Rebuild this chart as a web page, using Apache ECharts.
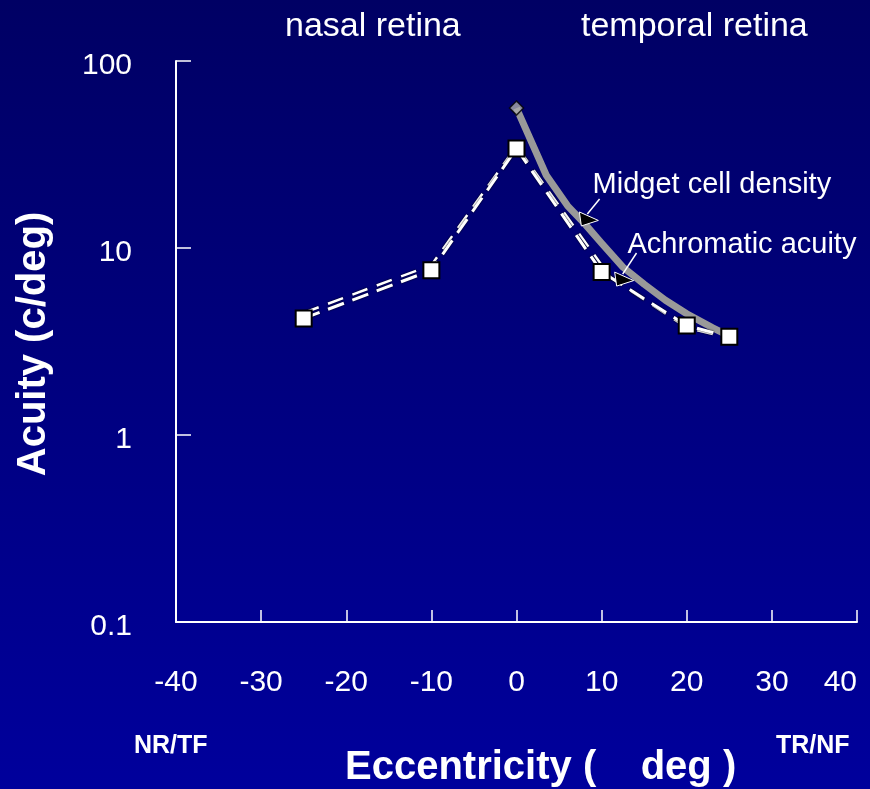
<!DOCTYPE html>
<html><head><meta charset="utf-8">
<script src="https://cdn.jsdelivr.net/npm/echarts@6/dist/echarts.min.js"></script>
<style>html,body{margin:0;padding:0;background:#000080;overflow:hidden;}#c{width:870px;height:789px;}</style>
</head><body><div id="c"></div>
<script>
// ---- data ----
const eccentricity = [-25, -10, 0, 10, 20, 25];
const achromaticAcuity = [4.2, 7.6, 34, 7.45, 3.85, 3.35];
const eccentricity2 = [-25, -10, 0, 11, 20, 25];
const achromaticAcuity2 = [4.5, 8.1, 35, 7.0, 3.75, 3.3];
const midgetEcc = [0, 3.5, 6, 8, 10, 12.5, 15, 17.5, 20, 23, 25.5];
const midgetDensity = [56, 24.5, 16.8, 13.5, 10.6, 7.9, 6.4, 5.25, 4.45, 3.75, 3.3];
const xTicks = [-40, -30, -20, -10, 0, 10, 20, 30, 40];
const yTicks = [0.1, 1, 10, 100];
const regionLabels = ['nasal retina', 'temporal retina'];
const sideLabels = ['NR/TF', 'TR/NF'];
const annotationLabels = ['Midget cell density', 'Achromatic acuity'];
const arrowHeads = [[7.5, 14.3], [11.65, 6.82]];
const arrowTails = [[9.76, 18.3], [14.1, 9.4]];

const pairs = (xs, ys) => xs.map((x, i) => [x, ys[i]]);
const FONT = '"Liberation Sans", Arial, sans-serif';

const chart = echarts.init(document.getElementById('c'), null, {renderer: 'canvas'});
const option = {
  backgroundColor: {
    type: 'linear', x: 0, y: 0, x2: 0, y2: 1,
    colorStops: [{offset: 0, color: '#000064'}, {offset: 0.5, color: '#000080'}, {offset: 1, color: '#00009c'}]
  },
  animation: false,
  grid: {left: 176, right: 13, top: 61, bottom: 167, containLabel: false, outerBoundsMode: 'none'},
  xAxis: {
    type: 'value', min: xTicks[0], max: xTicks[xTicks.length - 1], interval: 10,
    axisLine: {onZero: false, lineStyle: {color: '#fff', width: 2}},
    axisTick: {inside: true, length: 12, lineStyle: {color: '#fff', width: 1.5}},
    axisLabel: {color: '#fff', fontSize: 30, fontFamily: FONT, margin: 46, alignMaxLabel: 'right'},
    splitLine: {show: false}
  },
  yAxis: {
    type: 'log', logBase: 10, min: yTicks[0], max: yTicks[yTicks.length - 1],
    axisLine: {show: true, onZero: false, lineStyle: {color: '#fff', width: 2}},
    axisTick: {show: true, inside: true, length: 15, lineStyle: {color: '#fff', width: 1.5}},
    minorTick: {show: false},
    axisLabel: {color: '#fff', fontSize: 30, fontFamily: FONT, margin: 44,
      formatter: v => '{a|' + v + '}',
      rich: {a: {color: '#fff', fontSize: 30, fontFamily: FONT, padding: [10, 0, 0, 0]}}},
    splitLine: {show: false}
  },
  series: [
    {
      name: 'Midget cell density', type: 'line', data: pairs(midgetEcc, midgetDensity),
      symbol: 'none', smooth: false, z: 2,
      lineStyle: {color: '#999999', width: 7, join: 'round'}
    },
    {
      name: 'Midget start', type: 'scatter', data: [[midgetEcc[0], midgetDensity[0]]],
      symbol: 'diamond', symbolSize: 14, z: 3,
      itemStyle: {color: '#aaaaaa', borderColor: '#000', borderWidth: 1.5}
    },
    {
      name: 'Achromatic acuity 2', type: 'line', data: pairs(eccentricity2, achromaticAcuity2),
      symbol: 'none', z: 4,
      lineStyle: {color: '#fff', width: 2.5, type: [16, 10], shadowColor: 'rgba(0,0,0,0.9)', shadowBlur: 2}
    },
    {
      name: 'Achromatic acuity', type: 'line', data: pairs(eccentricity, achromaticAcuity),
      symbol: 'rect', symbolSize: 16, z: 5,
      lineStyle: {color: '#fff', width: 3, type: [17, 9], shadowColor: 'rgba(0,0,0,0.9)', shadowBlur: 2},
      itemStyle: {color: '#fff', borderColor: '#000', borderWidth: 2}
    }
  ],
  graphic: [
    {type: 'text', left: 285, top: 10, style: {text: regionLabels[0], fill: '#fff', font: '34px ' + FONT}},
    {type: 'text', left: 581, top: 10, style: {text: regionLabels[1], fill: '#fff', font: '34px ' + FONT}},
    {type: 'text', left: 134, top: 734, style: {text: sideLabels[0], fill: '#fff', font: 'bold 25px ' + FONT}},
    {type: 'text', left: 776, top: 734, style: {text: sideLabels[1], fill: '#fff', font: 'bold 25px ' + FONT}},
    {type: 'text', left: 345, top: 748, style: {text: 'Eccentricity (    deg )', fill: '#fff', font: 'bold 40px ' + FONT}},
    {type: 'text', x: 34, y: 344, rotation: Math.PI / 2,
      style: {text: 'Acuity (c/deg)', fill: '#fff', font: 'bold 40px ' + FONT, align: 'center', verticalAlign: 'middle'}}
  ]
};
chart.setOption(option);

// annotations with arrows placed through the grid's scales
const extra = [];
const textOffsets = [[-7, 1], [-9, 6]];
annotationLabels.forEach((lab, i) => {
  const h = chart.convertToPixel({gridIndex: 0}, arrowHeads[i]);
  const tail = chart.convertToPixel({gridIndex: 0}, arrowTails[i]);
  extra.push({type: 'line', z: 10, shape: {x1: tail[0], y1: tail[1], x2: h[0] + 7, y2: h[1] - 5},
    style: {stroke: '#fff', lineWidth: 1.5}});
  extra.push({type: 'polygon', z: 11,
    shape: {points: [[h[0] - 1, h[1] - 7], [h[0] + 18, h[1] + 1.5], [h[0] + 1, h[1] + 7]]},
    style: {fill: '#000', stroke: '#fff', lineWidth: 1}});
  extra.push({type: 'text', z: 12, x: tail[0] + textOffsets[i][0], y: tail[1] + textOffsets[i][1],
    style: {text: lab, fill: '#fff', font: '29px ' + FONT, verticalAlign: 'bottom'}});
});
chart.setOption({graphic: option.graphic.concat(extra)});
</script>
</body></html>
